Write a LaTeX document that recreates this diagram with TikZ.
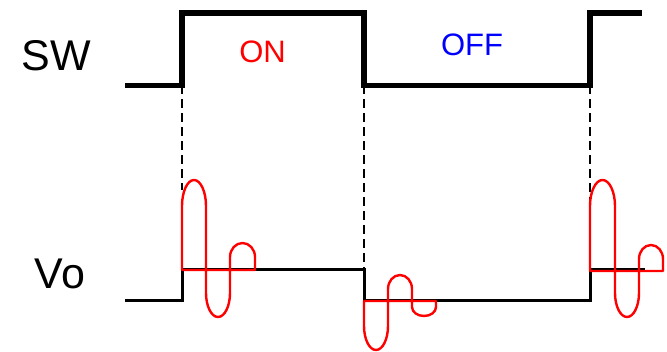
\documentclass[tikz,border=0pt]{standalone}
\usepackage{fontspec}
\setmainfont{Liberation Sans}
\usepackage{tikz}
\usetikzlibrary{positioning}
\definecolor{SigInk}{HTML}{000000}
\definecolor{SigRed}{HTML}{FF0000}
\definecolor{SigBlue}{HTML}{0000FF}
\tikzset{
  siglabel/.style={font=\fontsize{43}{43}\selectfont, text=SigInk, anchor=base, inner sep=0pt},
  statelabel/.style={font=\fontsize{31}{31}\selectfont, anchor=base, inner sep=0pt},
  swline/.style={draw=SigInk, line width=5.5pt, miter limit=4},
  voline/.style={draw=SigInk, line width=3pt},
  ringline/.style={draw=SigRed, line width=2.4pt, line join=round},
  guideline/.style={draw=SigInk, line width=2pt, dash pattern=on 9pt off 5pt}
}
\begin{document}
\begin{tikzpicture}[x=1pt, y=1pt]
\useasboundingbox (0,0) rectangle (667,351);
% labels
\node[siglabel] (sw) at (56,280) {SW};
\node[siglabel] (vo) at (60,63) {Vo};
\node[statelabel, text=SigRed] (on) at (262.5,288) {ON};
\node[statelabel, text=SigBlue] (off) at (472,295) {OFF};
% switching instants
\coordinate (t1) at (182,265.5);
\coordinate (t2) at (364,265.5);
\coordinate (t3) at (590,265.5);
\draw[guideline] (t1) -- (182,161);
\draw[guideline] (t2) -- (364,82);
\draw[guideline] (t3) -- (590,134);
% switch drive
\draw[swline] (125,265.5) -- (t1) -- (182,338) -- (364,338) -- (t2) -- (t3) -- (590,338) -- (642,338);
% output voltage
\draw[voline] (125,50) -- (182,50) -- (182,81) -- (364,81) -- (364,50) -- (590,50) -- (590,81) -- (645,81);
% ringing at each edge
\draw[ringline] (182,81) -- (182,145) arc[start angle=180, end angle=0, x radius=12, y radius=26]
  -- (206,58) arc[start angle=180, end angle=360, x radius=12, y radius=24]
  -- (230,94) arc[start angle=180, end angle=0, x radius=12.5, y radius=14] -- (255,81) -- cycle;
\draw[ringline] (364,50) -- (364,25) arc[start angle=180, end angle=360, x radius=12, y radius=24]
  -- (388,62) arc[start angle=180, end angle=0, x radius=12, y radius=14]
  -- (412,44) arc[start angle=180, end angle=360, x radius=12, y radius=9] -- (436,50) -- cycle;
\draw[ringline] (590,80) -- (590,145) arc[start angle=180, end angle=0, x radius=12.5, y radius=26]
  -- (615,58) arc[start angle=180, end angle=360, x radius=12, y radius=24]
  -- (639,92) arc[start angle=180, end angle=0, x radius=12, y radius=14] -- (663,80) -- cycle;
\end{tikzpicture}
\end{document}
